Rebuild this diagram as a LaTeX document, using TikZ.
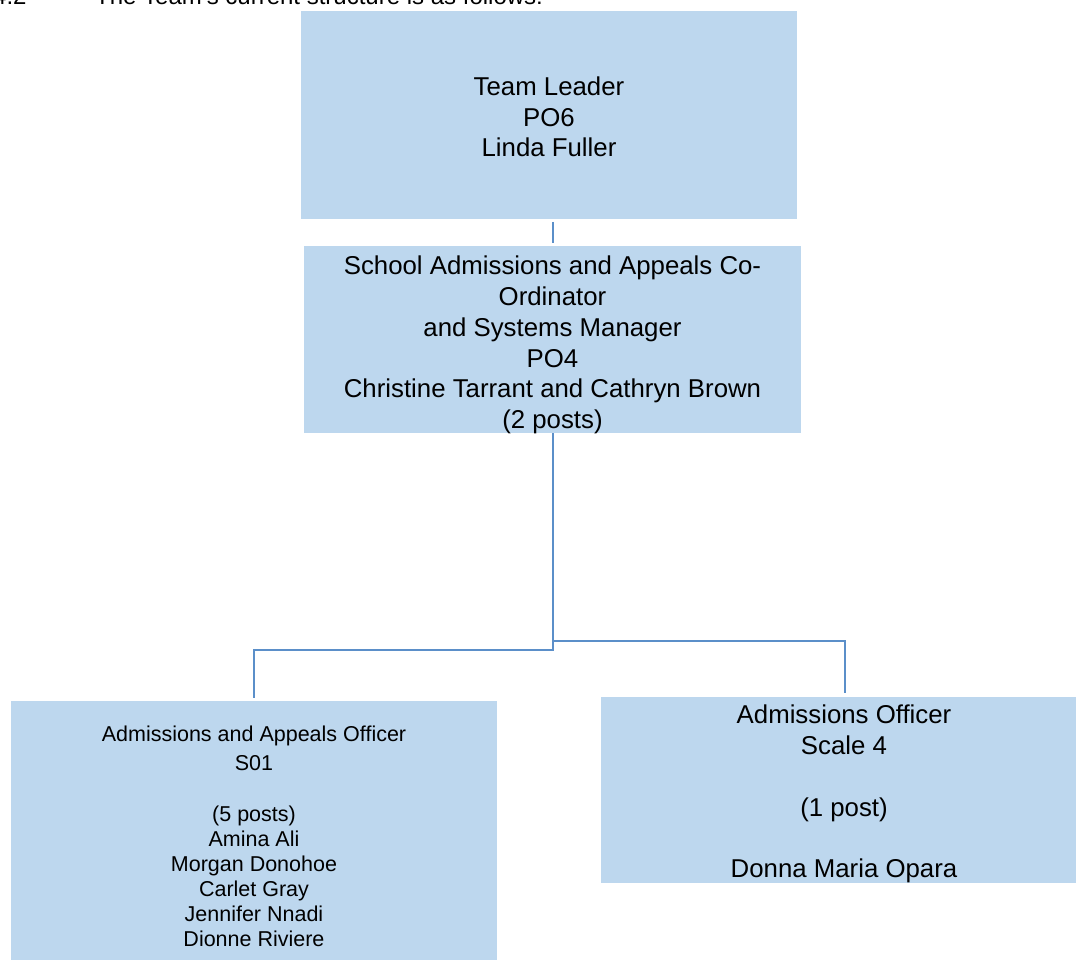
\documentclass[tikz,border=0pt]{standalone}
\usepackage{fontspec}
\setmainfont{Liberation Sans}
\definecolor{boxfill}{HTML}{BDD7EE}
\definecolor{linkblue}{HTML}{5B8FC9}
\begin{document}
\begin{tikzpicture}[x=1pt,y=-1pt,
  orgbox/.style={fill=boxfill, draw=none, inner sep=0pt},
  boxtext/.style={inner sep=0pt, align=center, text=black},
  bigtext/.style={font=\fontsize{25.8}{30.7}\selectfont},
  smalltext/.style={font=\fontsize{21.5}{25}\selectfont},
  link/.style={draw=linkblue, line width=1.6pt}]
\useasboundingbox (0,0) rectangle (1076,960);
% heading (cut off at the top)
\node[anchor=base west, inner sep=0pt, font=\fontsize{24}{28}\selectfont] (num) at (-7,5) {4.2};
\node[anchor=base west, inner sep=0pt, font=\fontsize{24}{28}\selectfont] (head) at (95,5) {The Team's current structure is as follows:};
% boxes
\node[orgbox, minimum width=496pt, minimum height=208pt] (tl) at (549,115) {};
\node[boxtext, bigtext] (tltext) at (549,117) {Team Leader\\PO6\\Linda Fuller};
\node[orgbox, minimum width=497pt, minimum height=187pt] (co) at (552.5,339.5) {};
\node[boxtext, bigtext] (cotext) at (552.5,345) {School Admissions and Appeals Co-\\Ordinator\\and Systems Manager\\PO4\\Christine Tarrant and Cathryn Brown\\(2 posts)};
\node[orgbox, minimum width=486pt, minimum height=274pt] (aao) at (254,838) {};
\node[boxtext, smalltext] (aaotext) at (254,836.5) {Admissions and Appeals Officer\\[4pt]S01\\[26pt](5 posts)\\Amina Ali\\Morgan Donohoe\\Carlet Gray\\Jennifer Nnadi\\Dionne Riviere};
\node[orgbox, minimum width=479pt, minimum height=186pt] (ao) at (840.5,790) {};
\node[boxtext, bigtext] (aotext) at (844,794) {Admissions Officer\\Scale 4\\ \\(1 post)\\ \\Donna Maria Opara};
% connectors
\coordinate (t1) at (553,222);
\coordinate (t2) at (553,243);
\coordinate (jl) at (553,650);
\coordinate (jr) at (553,641);
\coordinate (lb) at (254,698);
\coordinate (rb) at (845,693);
\draw[link] (t1) -- (t2);
\draw[link] (co.south -| jl) -- (jl) -| (lb);
\draw[link] (jr) -| (rb);
\end{tikzpicture}
\end{document}
